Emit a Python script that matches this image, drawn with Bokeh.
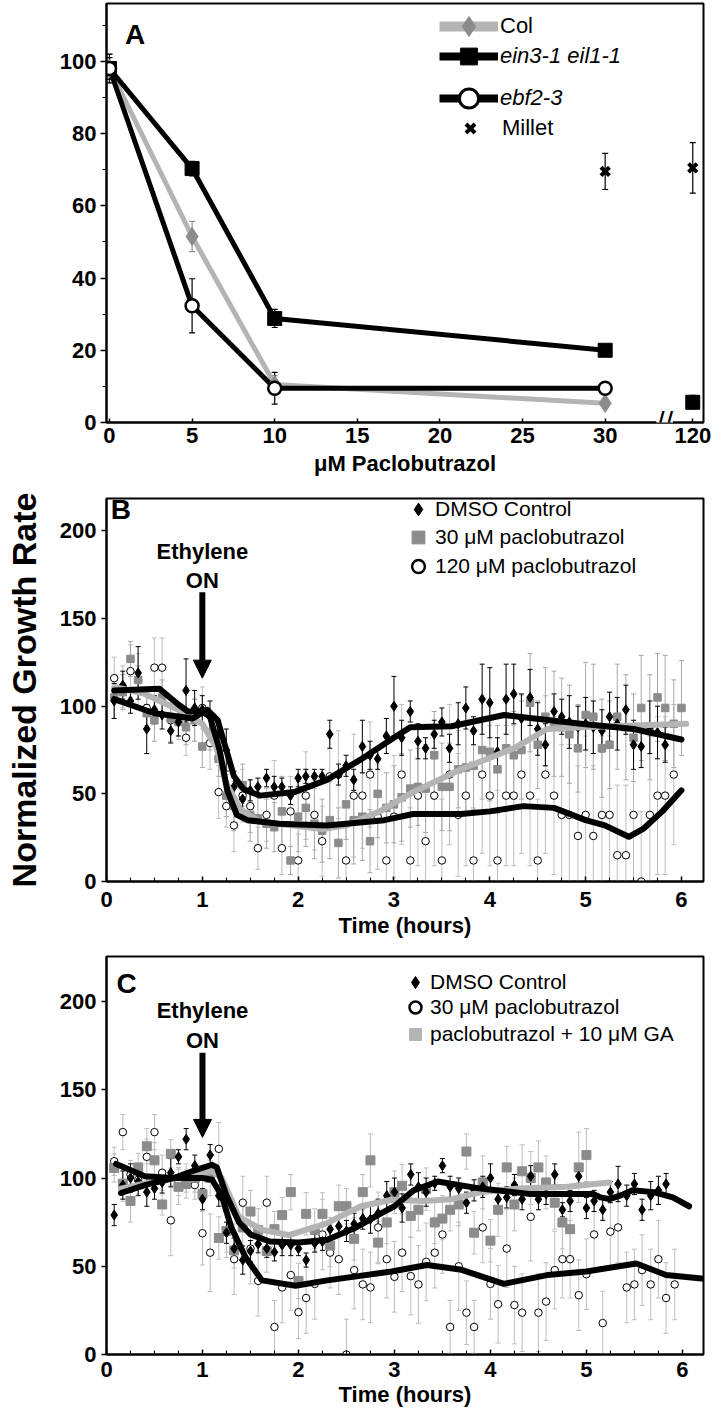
from bokeh.plotting import figure
from bokeh.layouts import column
from bokeh.models import (ColumnDataSource, Whisker, TeeHead, FixedTicker, Label,
                          Arrow, NormalHead, Legend, LegendItem, Range1d)
from bokeh.embed import file_html
from bokeh.resources import INLINE

FONT = "Liberation Sans"
NAN = float("nan")

# ---------------- Panel A data ----------------
conc = [0, 5, 10, 30]
col_mean = [98, 51.5, 10.5, 5.3]
col_err = [4, 4.2, 2.5, 1.0]
ein_mean = [98, 70.3, 28.8, 20.0]
ein_err = [3, 2, 2.5, 1.5]
ein_conc_hi = [120]
ein_mean_hi = [5.6]
ein_err_hi = [2]
ebf_mean = [98, 32.3, 9.5, 9.5]
ebf_err = [4, 7.5, 4.4, 1.0]
millet_conc = [30, 120]
millet_mean = [69.5, 70.5]
millet_err = [5, 7]
a_tick_vals = [0, 5, 10, 15, 20, 25, 30, 120]
# broken axis: 120 uM drawn just right of the break
AXIS_POS = {0: 0, 5: 5, 10: 10, 15: 15, 20: 20, 25: 25, 30: 30, 120: 35.3}

# ---------------- Panels B / C data ----------------
time_h = [0.08, 0.17, 0.25, 0.33, 0.42, 0.50, 0.58, 0.67, 0.75, 0.83, 0.92, 1.00,
          1.08, 1.17, 1.25, 1.33, 1.42, 1.50, 1.58, 1.67, 1.75, 1.83, 1.92, 2.00,
          2.08, 2.17, 2.25, 2.33, 2.42, 2.50, 2.58, 2.67, 2.75, 2.83, 2.92, 3.00,
          3.08, 3.17, 3.25, 3.33, 3.42, 3.50, 3.58, 3.67, 3.75, 3.83, 3.92, 4.00,
          4.08, 4.17, 4.25, 4.33, 4.42, 4.50, 4.58, 4.67, 4.75, 4.83, 4.92, 5.00,
          5.08, 5.17, 5.25, 5.33, 5.42, 5.50, 5.58, 5.67, 5.75, 5.83, 5.92, 6.00]

b_dmso = [103, 112, 103, 119, 87, 98, 95, 86, 91, 109, 99, 98,
          94, 84, 75, 54, 47, 52, 54, 59, 54, 54, 49, 59,
          60, 60, 60, 84, 61, 66, 58, 77, 72, 70, 83, 100,
          82, 97, 80, 76, 84, 91, 76, 90, 99, 86, 104, 102,
          74, 104, 107, 93, 105, 87, 78, 97, 94, 91, 88, 90,
          88, 86, 94, 90, 98, 78, 77, 88, 85, 78]
b_dmso_err = [10, 8, 7, 15, 14, 8, 8, 7, 8, 18, 10, 8,
              9, 8, 12, 9, 6, 6, 5, 5, 6, 5, 5, 5,
              4, 4, 4, 8, 6, 6, 6, 15, 8, 6, 10, 17,
              10, 6, 10, 6, 8, 8, 8, 12, 12, 8, 20, 20,
              8, 20, 17, 14, 16, 15, 12, 10, 10, 15, 12, 15,
              15, 12, 14, 15, 14, 14, 12, 15, 15, 10]
b_p30 = [105, 108, 127, 115, 96, 92, 105, 93, 91, 88, 92, 77,
         85, 70, 49, 43, 55, 38, 36, 33, 31, 40, 12, 37,
         42, 33, 29, 35, 22, 44, 35, 37, 23, 50, 42, 44,
         48, 53, 54, 53, 72, 54, 54, 64, 65, 66, 75, 74,
         64, 76, 72, 75, 102, 78, 94, 90, 88, 84, 76, 95,
         94, 76, 78, 94, 88, 82, 99, 88, 105, 99, 90, 99]
b_p30_err = [12, 10, 10, 8, 10, 12, 10, 8, 8, 10, 12, 12,
             10, 10, 12, 14, 12, 15, 15, 14, 14, 20, 8, 20,
             22, 20, 18, 22, 20, 20, 25, 25, 18, 25, 20, 22,
             25, 22, 22, 25, 25, 25, 25, 22, 25, 25, 28, 28,
             25, 28, 25, 28, 28, 25, 28, 30, 28, 28, 25, 30,
             30, 28, 25, 30, 30, 25, 30, 30, 25, 30, 25, 27]
b_p120 = [116, 111, 120, 115, 99, 122, 122, 92, 91, 82, 92, 99,
          79, 51, 43, 32, 49, 43, 19, 38, 49, 19, 40, 12,
          49, 38, 23, 60, 61, 12, 49, 49, 61, 37, 12, 37,
          61, 12, 49, 23, 49, 12, 61, 38, 49, 12, 61, 49,
          12, 49, 49, 61, 49, 12, 61, 49, 38, 38, 26, 38,
          26, 38, 38, 15, 15, 38, 0, 38, 49, 49, 61]
b_p120_err = [12, 12, 15, 15, 10, 17, 17, 12, 10, 10, 12, 12,
              15, 15, 12, 15, 15, 15, 12, 15, 20, 15, 20, 15,
              25, 20, 20, 25, 25, 20, 35, 30, 30, 30, 30, 35,
              40, 30, 40, 30, 40, 35, 40, 35, 40, 30, 45, 40,
              40, 40, 40, 45, 40, 35, 45, 45, 40, 40, 40, 45,
              40, 45, 45, 40, 40, 40, 40, 45, 45, 45, 40]

# fitted trend lines
b_fit_dmso_t = [0.08, 0.5, 0.9, 1.05, 1.16, 1.33, 1.43, 1.6, 1.96, 2.3, 2.65, 2.97, 3.17, 3.6, 4.15, 4.95, 5.5, 6.0]
b_fit_dmso_v = [104, 96, 93, 98, 92, 60, 52.6, 49, 51, 58, 69.5, 81, 88, 88.6, 95, 90, 87, 81]
b_fit_p30_t = [0.08, 0.4, 0.75, 1.0, 1.15, 1.25, 1.4, 1.6, 1.95, 2.25, 2.5, 2.85, 3.2, 3.7, 4.25, 4.6, 4.95, 5.5, 6.05]
b_fit_p30_v = [111, 107, 98, 90, 76, 56, 41, 34, 32, 30, 32, 40, 51, 64, 76, 87, 88, 89, 90]
b_fit_p120_t = [0.08, 0.55, 0.75, 0.85, 1.0, 1.08, 1.18, 1.26, 1.36, 1.47, 1.8, 2.3, 2.9, 3.2, 3.7, 4.0, 4.35, 4.67, 5.0, 5.2, 5.45, 5.6, 5.8, 6.0]
b_fit_p120_v = [109, 110, 101, 97, 97, 94, 75, 52, 38, 35, 33, 32, 35, 38.5, 38.5, 40, 43, 42, 35, 32, 25.5, 30, 40, 52]

c_dmso = [79, 96, 100, 98, 92, 94, 97.5, 103, 112, 122, 107, 88,
          113, 90, 69, 60, 53.5, 58.6, 62.6, 60, 58, 62, 62, 60,
          53.5, 63, 64, 71, 72.7, 70, 74, 77, 76.7, 80, 90, 92,
          83, 102, 95, 92, 97, 107, 95, 94, 86, 93, 95, 100,
          88, 89, 96, 88, 101, 88, 91, 102, 82, 87, 101, 83,
          87, 82, 92, 96.6, 90, 96.6, 82, 90, 93, 96.6]
c_dmso_err = [6, 8, 8, 8, 8, 6, 6, 8, 4, 6, 6, 6,
              6, 6, 6, 6, 8, 6, 5, 5, 5, 6, 6, 4,
              4, 5, 5, 5, 5, 6, 6, 6, 8, 8, 8, 8,
              8, 6, 8, 8, 4, 4, 6, 6, 6, 6, 6, 8,
              6, 6, 6, 6, 6, 6, 6, 6, 4, 6, 4, 6,
              6, 6, 6, 10, 6, 6, 6, 8, 8, 6]
c_p30 = [109.5, 126, 102, 99, 112, 126, 103, 76, 98, 100, 96, 68.7,
         57.7, 116.5, 70, 54, 86, 60, 41.7, 86, 15.6, 38, 45, 24,
         32, 40, 68, 57.7, 54, 0, 47.8, 39.7, 38, 72, 54, 44,
         57.7, 44.4, 39.7, 52.5, 57.7, 68, 15.6, 50, 23.7, 15.6, 72, 40,
         28.5, 60, 28, 23.7, 78, 23.7, 30, 47.8, 54, 54, 33.6, 45.5,
         68, 17.8, 69.6, 72, 38, 39.7, 47.8, 39.7, 54, 32, 39.7]
c_p30_err = [8, 10, 8, 8, 10, 10, 10, 20, 8, 8, 8, 18,
             22, 15, 15, 20, 15, 20, 20, 15, 15, 20, 20, 15,
             20, 20, 20, 20, 20, 20, 22, 20, 20, 20, 22, 20,
             22, 22, 22, 22, 20, 22, 15, 25, 18, 15, 20, 20,
             22, 22, 22, 22, 25, 22, 22, 22, 22, 22, 20, 20,
             20, 18, 20, 20, 20, 20, 20, 20, 22, 20, 20]
c_ga = [105.7, 96.8, 87, 106, 118, 110, 85, 113.7, 95, 96.6, 100, 91,
        100, 66, 70, 59, 72, 81, 70.6, 58.6, 71, 79, 92, 41.7,
        79.7, 70.6, 79.7, 61.7, 84, 84, 65.5, 92, 110, 63.4, 74.8, 92,
        95.6, 78.5, 82, 93.7, 74.8, 77, 82, 85, 115, 69, 97.5, 64.5,
        82, 106, 85, 103.8, 100, 106, 97.5, 86, 74.8, 71, 106, 113]
c_ga_err = [8, 10, 12, 8, 10, 10, 6, 8, 10, 8, 8, 10,
            10, 12, 12, 10, 12, 12, 12, 12, 10, 10, 10, 10,
            12, 12, 12, 12, 12, 10, 12, 10, 15, 12, 12, 12,
            12, 12, 12, 12, 12, 12, 12, 12, 10, 12, 15, 12,
            15, 12, 15, 15, 15, 15, 15, 15, 15, 15, 20, 15]

c_fit_dmso_t = [0.15, 0.4, 0.7, 0.9, 1.1, 1.15, 1.25, 1.38, 1.5, 1.7, 2.0, 2.3, 2.6, 2.86, 3.0, 3.2, 3.45, 3.9, 4.4, 5.07, 5.15, 5.24, 5.35, 5.48, 5.7, 5.9, 6.07]
c_fit_dmso_v = [91.5, 96, 100, 104, 107.5, 106, 90, 75, 68, 64, 63.4, 65, 72, 80, 84, 93, 98, 94, 91, 91, 89, 88, 90, 93, 92, 89, 84]
c_fit_p30_t = [0.1, 0.4, 0.7, 1.0, 1.1, 1.2, 1.3, 1.45, 1.62, 1.97, 2.3, 2.97, 3.34, 3.7, 4.14, 4.59, 5.0, 5.52, 5.83, 6.2]
c_fit_p30_v = [108, 101, 100, 100, 99, 90, 72, 55, 42, 39, 42, 47, 50.7, 48, 40, 45, 47, 51.6, 45, 43]
c_fit_ga_t = [0.15, 0.5, 0.8, 1.1, 1.2, 1.3, 1.38, 1.62, 1.9, 2.28, 2.65, 2.97, 3.3, 3.6, 3.9, 4.3, 4.8, 5.24]
c_fit_ga_v = [94, 98, 101, 104, 100, 88, 78, 70.6, 67.7, 74, 84, 87.7, 87, 88, 92, 94, 95, 97.5]

GRAY_LINE = "#b4b4b4"
GRAY_MK = "#8c8c8c"
GRAY_ERR = "#a8a8a8"
GRAY_ERR_LIGHT = "#bdbdbd"
TICK_SIZE = "22px"


def style_axes(p):
    for ax in (p.xaxis[0], p.yaxis[0]):
        ax.axis_line_width = 2
        ax.axis_line_color = "black"
        ax.major_label_text_font = FONT
        ax.major_label_text_font_style = "bold"
        ax.major_label_text_font_size = TICK_SIZE
        ax.major_label_text_color = "black"
        ax.axis_label_text_font = FONT
        ax.axis_label_text_font_style = "bold"
        ax.axis_label_text_color = "black"
        ax.major_tick_line_color = "black"
        ax.minor_tick_line_color = "black"
        ax.major_tick_line_width = 1.5
    p.xgrid.visible = False
    p.ygrid.visible = False
    p.outline_line_color = "black"
    p.outline_line_width = 2
    p.outline_line_alpha = 1
    p.background_fill_color = "white"
    p.border_fill_color = "white"


def add_err(p, x, y, e, color, width=1.0, head=6):
    n = min(len(x), len(y), len(e))
    src = ColumnDataSource(dict(
        x=list(x[:n]),
        lo=[max(0.0, y[i] - e[i]) for i in range(n)],
        hi=[y[i] + e[i] for i in range(n)]))
    w = Whisker(source=src, base="x", lower="lo", upper="hi",
                line_color=color, line_width=width, level="underlay",
                upper_head=TeeHead(size=head, line_color=color, line_width=width),
                lower_head=TeeHead(size=head, line_color=color, line_width=width))
    p.add_layout(w)


def text_label(p, x, y, txt, size, style="bold", align="center"):
    p.add_layout(Label(x=x, y=y, text=txt, text_font=FONT, text_font_size=size,
                       text_font_style=style, text_align=align,
                       text_baseline="middle", text_color="black"))


def legend_row(p, label, renderers, frame_left, frame_bottom, x0, cy, gw, gh,
               standoff, style="normal", size="21px"):
    """One-item legend; x0 = left edge of the glyph box, cy = row centre (canvas px)."""
    leg = Legend(items=[LegendItem(label=label, renderers=renderers)],
                 location=(x0 - frame_left, frame_bottom - (cy + gh / 2)),
                 glyph_width=gw, glyph_height=gh, spacing=0,
                 label_standoff=standoff, padding=0, margin=0,
                 border_line_alpha=0, background_fill_alpha=0,
                 label_text_font=FONT, label_text_font_size=size,
                 label_text_font_style=style, label_text_color="black",
                 label_height=20)
    p.add_layout(leg)


# ================= Panel A =================
A_LEFT, A_BOTTOM = 100, 423
pA = figure(width=717, height=478, output_backend="svg", toolbar_location=None,
            x_range=Range1d(-0.18, 35.95), y_range=Range1d(0, 116.0),
            min_border_left=100, min_border_right=9, min_border_top=3, min_border_bottom=55)
style_axes(pA)

xa = [AXIS_POS[c] for c in conc]
xa_hi = [AXIS_POS[c] for c in ein_conc_hi]
xa_mil = [AXIS_POS[c] for c in millet_conc]

add_err(pA, xa, col_mean, col_err, "#909090", 1.2, 6)
add_err(pA, xa, ein_mean, ein_err, "black", 1.2, 6)
add_err(pA, xa_hi, ein_mean_hi, ein_err_hi, "#909090", 1.2, 6)
add_err(pA, xa, ebf_mean, ebf_err, "black", 1.2, 6)
add_err(pA, xa_mil, millet_mean, millet_err, "black", 1.2, 6)

pA.line(xa, col_mean, line_color=GRAY_LINE, line_width=5, line_join="round")
pA.line(xa, ein_mean, line_color="black", line_width=5, line_join="round")
pA.line(xa, ebf_mean, line_color="black", line_width=5, line_join="round")
pA.scatter(xa, col_mean, marker="diamond", size=18, fill_color=GRAY_MK, line_color=GRAY_MK)
pA.scatter(xa, ein_mean, marker="square", size=14, fill_color="black", line_color="black")
pA.scatter(xa_hi, ein_mean_hi, marker="square", size=14, fill_color="black", line_color="black")
pA.scatter(xa, ebf_mean, marker="circle", size=13, fill_color="white", line_color="black", line_width=2.5)
pA.scatter(xa_mil, millet_mean, marker="x", size=12, line_color="black", line_width=4)

pA.xaxis[0].ticker = FixedTicker(ticks=[AXIS_POS[v] for v in a_tick_vals], minor_ticks=[])
pA.xaxis[0].major_label_overrides = {AXIS_POS[v]: str(v) for v in a_tick_vals}
pA.xaxis[0].major_tick_in = 4
pA.xaxis[0].major_tick_out = 0
pA.xaxis[0].major_label_standoff = 5
pA.xaxis[0].axis_label = "\u03bcM Paclobutrazol"
pA.xaxis[0].axis_label_text_font_size = "22px"
pA.xaxis[0].axis_label_standoff = 5
pA.yaxis[0].ticker = FixedTicker(ticks=[0, 20, 40, 60, 80, 100], minor_ticks=[10, 30, 50, 70, 90, 110])
pA.yaxis[0].major_tick_in = 0
pA.yaxis[0].major_tick_out = 6
pA.yaxis[0].minor_tick_in = 0
pA.yaxis[0].minor_tick_out = 4
pA.yaxis[0].major_label_standoff = 4

# axis break mark
pA.add_layout(Label(x=33.6, y=0, text="//", text_font=FONT, text_font_size="30px",
                    text_align="center", text_baseline="middle", text_color="black",
                    background_fill_color="white", level="overlay"))
text_label(pA, 1.55, 107.5, "A", "28px")

# legend (legend-only renderers, no data)
lg_col_l = pA.line([NAN], [NAN], line_color=GRAY_LINE, line_width=10)
lg_col_m = pA.scatter([NAN], [NAN], marker="diamond", fill_color=GRAY_MK, line_color=GRAY_MK)
lg_ein_l = pA.line([NAN], [NAN], line_color="black", line_width=8)
lg_ein_m = pA.scatter([NAN], [NAN], marker="square", fill_color="black", line_color="black")
lg_ebf_l = pA.line([NAN], [NAN], line_color="black", line_width=8)
lg_ebf_m = pA.scatter([NAN], [NAN], marker="circle", fill_color="white", line_color="black", line_width=3)
lg_mil = pA.scatter([NAN], [NAN], marker="x", line_color="black", line_width=4)
legend_row(pA, "Col", [lg_col_l, lg_col_m], A_LEFT, A_BOTTOM, 433, 27, 59, 50, 2, size="22px")
legend_row(pA, "ein3-1 eil1-1", [lg_ein_l, lg_ein_m], A_LEFT, A_BOTTOM, 433, 57, 59, 42, 2,
           style="italic", size="22px")
legend_row(pA, "ebf2-3", [lg_ebf_l, lg_ebf_m], A_LEFT, A_BOTTOM, 433, 99, 59, 48, 2,
           style="italic", size="22px")
legend_row(pA, "Millet", [lg_mil], A_LEFT, A_BOTTOM, 448, 129, 32, 32, 16, size="22px")


# ================= Panels B / C =================
def time_panel(height, border_top, border_bottom, border_left, y_end, x_end):
    p = figure(width=717, height=height, output_backend="svg", toolbar_location=None,
               x_range=Range1d(0, x_end), y_range=Range1d(0, y_end),
               min_border_left=border_left, min_border_right=14,
               min_border_top=border_top, min_border_bottom=border_bottom)
    style_axes(p)
    p.xaxis[0].ticker = FixedTicker(ticks=[0, 1, 2, 3, 4, 5, 6],
                                    minor_ticks=[i * 0.25 for i in range(25)])
    p.xaxis[0].major_tick_in = 5
    p.xaxis[0].major_tick_out = 0
    p.xaxis[0].minor_tick_in = 4
    p.xaxis[0].minor_tick_out = 0
    p.xaxis[0].axis_label = "Time (hours)"
    p.xaxis[0].axis_label_text_font_size = "22px"
    p.yaxis[0].ticker = FixedTicker(ticks=[0, 50, 100, 150, 200], minor_ticks=[])
    p.yaxis[0].major_tick_in = 0
    p.yaxis[0].major_tick_out = 5
    p.yaxis[0].major_label_standoff = 5
    return p


def arrow(p, y0, y1):
    p.add_layout(Arrow(end=NormalHead(size=18, fill_color="black", line_color="black", line_width=1),
                       x_start=1, y_start=y0, x_end=1, y_end=y1, line_width=6, line_color="black"))


# ---- B ----  (canvas rows 478..940)
B_LEFT, B_BOTTOM = 106, 887 - 478
pB = time_panel(462, 20, 53, 106, 218.5, 6.23)
pB.xaxis[0].major_label_standoff = 10
pB.xaxis[0].axis_label_standoff = 3
pB.yaxis[0].axis_label = "Normalized Growth Rate"
pB.yaxis[0].axis_label_text_font_size = "34px"
pB.yaxis[0].axis_label_standoff = 14

add_err(pB, time_h, b_p120, b_p120_err, GRAY_ERR_LIGHT, 1, 5)
add_err(pB, time_h, b_p30, b_p30_err, GRAY_ERR, 1, 5)
add_err(pB, time_h, b_dmso, b_dmso_err, "black", 1, 5)
pB.scatter(time_h[:len(b_p120)], b_p120, marker="circle", size=7.5, fill_color="white",
           line_color="black", line_width=1)
pB.scatter(time_h[:len(b_p30)], b_p30, marker="square", size=7.5, fill_color=GRAY_MK, line_color=GRAY_MK)
pB.scatter(time_h[:len(b_dmso)], b_dmso, marker="diamond", size=10, fill_color="black", line_color="black")
pB.line(b_fit_p30_t, b_fit_p30_v, line_color=GRAY_LINE, line_width=6, line_join="round", line_cap="round")
pB.line(b_fit_p120_t, b_fit_p120_v, line_color="black", line_width=6, line_join="round", line_cap="round")
pB.line(b_fit_dmso_t, b_fit_dmso_v, line_color="black", line_width=6, line_join="round", line_cap="round")

text_label(pB, 0.15, 212, "B", "28px")
text_label(pB, 1.0, 188, "Ethylene", "22px")
text_label(pB, 1.0, 172, "ON", "22px")
arrow(pB, 165, 116)

lb_d = pB.scatter([NAN], [NAN], marker="diamond", fill_color="black", line_color="black")
lb_s = pB.scatter([NAN], [NAN], marker="square", fill_color=GRAY_MK, line_color=GRAY_MK)
lb_c = pB.scatter([NAN], [NAN], marker="circle", fill_color="white", line_color="black", line_width=2.5)
legend_row(pB, "DMSO Control", [lb_d], B_LEFT, B_BOTTOM, 402, 515 - 478, 32, 32, 1)
legend_row(pB, "30 \u03bcM paclobutrazol", [lb_s], B_LEFT, B_BOTTOM, 402, 543 - 478, 32, 32, 1)
legend_row(pB, "120 \u03bcM paclobutrazol", [lb_c], B_LEFT, B_BOTTOM, 402, 572 - 478, 32, 32, 1)

# ---- C ----  (canvas rows 940..1412)
C_LEFT, C_BOTTOM = 105, 1354 - 940
pC = time_panel(472, 16, 58, 105, 225.5, 6.22)
pC.xaxis[0].major_label_standoff = 7
pC.xaxis[0].axis_label_standoff = 2

add_err(pC, time_h, c_p30, c_p30_err, GRAY_ERR_LIGHT, 1, 5)
add_err(pC, time_h, c_ga, c_ga_err, GRAY_ERR_LIGHT, 1, 5)
add_err(pC, time_h, c_dmso, c_dmso_err, "black", 1, 5)
pC.scatter(time_h[:len(c_p30)], c_p30, marker="circle", size=7.5, fill_color="white",
           line_color="black", line_width=1)
pC.scatter(time_h[:len(c_ga)], c_ga, marker="square", size=9, fill_color=GRAY_MK, line_color=GRAY_MK)
pC.scatter(time_h[:len(c_dmso)], c_dmso, marker="diamond", size=10, fill_color="black", line_color="black")
pC.line(c_fit_ga_t, c_fit_ga_v, line_color=GRAY_LINE, line_width=6, line_join="round", line_cap="round")
pC.line(c_fit_p30_t, c_fit_p30_v, line_color="black", line_width=6, line_join="round", line_cap="round")
pC.line(c_fit_dmso_t, c_fit_dmso_v, line_color="black", line_width=6, line_join="round", line_cap="round")

text_label(pC, 0.21, 210, "C", "28px")
text_label(pC, 1.0, 195, "Ethylene", "22px")
text_label(pC, 1.0, 178, "ON", "22px")
arrow(pC, 171, 123)

lc_d = pC.scatter([NAN], [NAN], marker="diamond", fill_color="black", line_color="black")
lc_c = pC.scatter([NAN], [NAN], marker="circle", fill_color="white", line_color="black", line_width=2.5)
lc_s = pC.scatter([NAN], [NAN], marker="square", fill_color=GRAY_LINE, line_color=GRAY_LINE)
legend_row(pC, "DMSO Control", [lc_d], C_LEFT, C_BOTTOM, 399, 982 - 940, 30, 30, 0)
legend_row(pC, "30 \u03bcM paclobutrazol", [lc_c], C_LEFT, C_BOTTOM, 399, 1007 - 940, 30, 30, 0)
legend_row(pC, "paclobutrazol + 10 \u03bcM GA", [lc_s], C_LEFT, C_BOTTOM, 399, 1034 - 940, 30, 30, 0)

layout = column(pA, pB, pC, spacing=0)
open("out.html", "w").write(file_html(layout, INLINE))
